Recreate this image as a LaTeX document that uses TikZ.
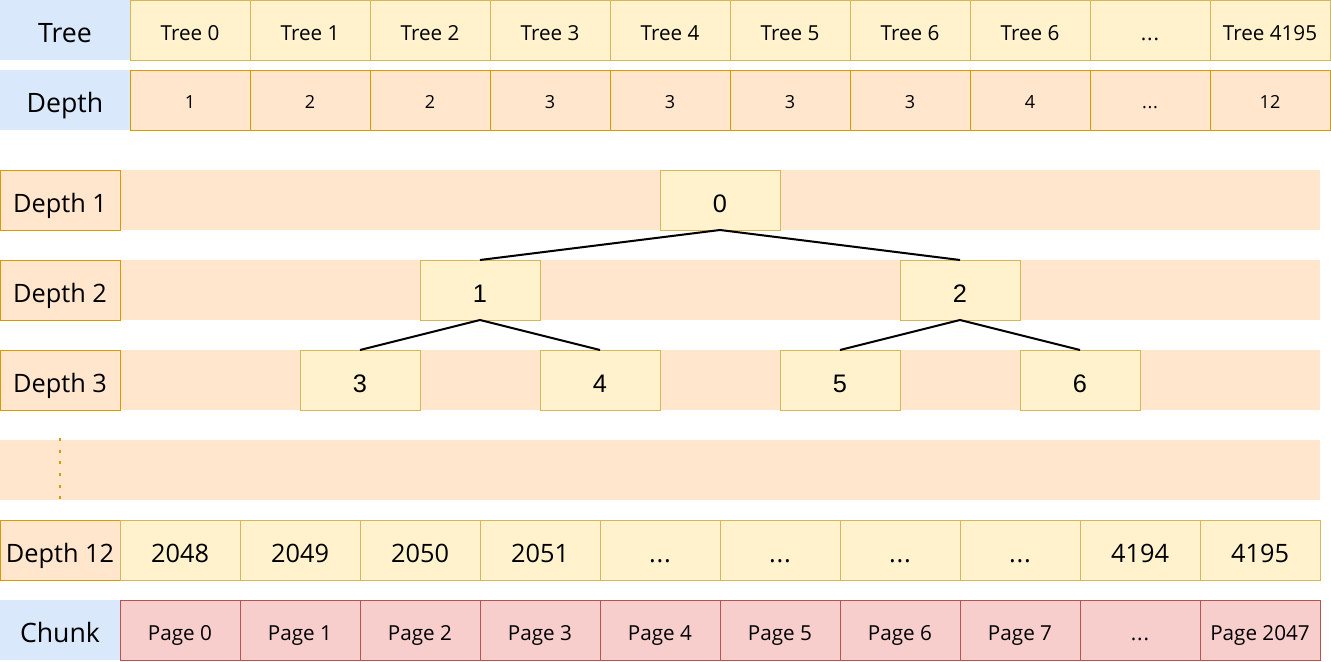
\documentclass[tikz,border=0pt]{standalone}
\usepackage{fontspec}
\setmainfont{Open Sans}
\newfontfamily\numfont{Liberation Sans}
\usepackage{xcolor}

\definecolor{headfill}{HTML}{DAE8FC}
\definecolor{yelfill}{HTML}{FFF2CC}
\definecolor{yelline}{HTML}{D6B656}
\definecolor{orgfill}{HTML}{FFE6CC}
\definecolor{orgline}{HTML}{D79B00}
\definecolor{redfill}{HTML}{F8CECC}
\definecolor{redline}{HTML}{B85450}

\newcommand{\dotsgap}{.\kern0.6pt.\kern0.6pt.}

\begin{document}
\begin{tikzpicture}[x=0.75pt,y=-0.75pt,
  cell/.style={anchor=north west,minimum width=90pt,minimum height=45pt,inner sep=0pt,outer sep=0pt,line width=0.75pt,text depth=0pt},
  head/.style={cell,fill=headfill,font=\fontsize{20}{24}\selectfont,text height=19.4pt},
  treecell/.style={cell,draw=yelline,fill=yelfill,font=\fontsize{15.5}{18}\selectfont,text height=15pt},
  depthcell/.style={cell,draw=orgline,fill=orgfill,font=\fontsize{13.5}{16}\selectfont,text height=13.1pt},
  levelbox/.style={cell,draw=orgline,fill=orgfill,font=\fontsize{19}{22}\selectfont,text height=18.4pt},
  band/.style={fill=orgfill},
  treenode/.style={cell,draw=yelline,fill=yelfill,font=\numfont\fontsize{19}{22}\selectfont,text height=18.4pt},
  leafcell/.style={cell,draw=yelline,fill=yelfill,font=\fontsize{19}{22}\selectfont,text height=18.4pt},
  pagecell/.style={cell,draw=redline,fill=redfill,font=\fontsize{15.5}{18}\selectfont,text height=15pt},
  edge/.style={line width=1.5pt,black}]
\useasboundingbox (0,0) rectangle (1331,661);

%tree row
\node[head,minimum width=97.5pt] (treehead) at (0,0) {Tree};
\node[treecell] (tree0) at (130,0) {Tree 0};
\node[treecell] (tree1) at (250,0) {Tree 1};
\node[treecell] (tree2) at (370,0) {Tree 2};
\node[treecell] (tree3) at (490,0) {Tree 3};
\node[treecell] (tree4) at (610,0) {Tree 4};
\node[treecell] (tree5) at (730,0) {Tree 5};
\node[treecell] (tree6) at (850,0) {Tree 6};
\node[treecell] (tree7) at (970,0) {Tree 6};
\node[treecell] (tree8) at (1090,0) {\dotsgap};
\node[treecell] (tree9) at (1210,0) {Tree 4195};

%depth row
\node[head,minimum width=97.5pt] (depthhead) at (0,70) {Depth};
\node[depthcell] (dep0) at (130,70) {1};
\node[depthcell] (dep1) at (250,70) {2};
\node[depthcell] (dep2) at (370,70) {2};
\node[depthcell] (dep3) at (490,70) {3};
\node[depthcell] (dep4) at (610,70) {3};
\node[depthcell] (dep5) at (730,70) {3};
\node[depthcell] (dep6) at (850,70) {3};
\node[depthcell] (dep7) at (970,70) {4};
\node[depthcell] (dep8) at (1090,70) {\dotsgap};
\node[depthcell] (dep9) at (1210,70) {12};

%bands
\fill[band] (120,170) rectangle (1320,230);
\fill[band] (120,260) rectangle (1320,320);
\fill[band] (120,350) rectangle (1320,410);
\fill[band] (0,440) rectangle (1320,500);
\draw[orgline,line width=1.5pt,dash pattern=on 2.25pt off 6.5pt] (60,438) -- (60,500);

%levels
\node[levelbox] (lev1) at (0,170) {Depth 1};
\node[levelbox] (lev2) at (0,260) {Depth 2};
\node[levelbox] (lev3) at (0,350) {Depth 3};
\node[levelbox] (lev12) at (0,520) {Depth 12};

%tree
\node[treenode] (n0) at (660,170) {0};
\node[treenode] (n1) at (420,260) {1};
\node[treenode] (n2) at (900,260) {2};
\node[treenode] (n3) at (300,350) {3};
\node[treenode] (n4) at (540,350) {4};
\node[treenode] (n5) at (780,350) {5};
\node[treenode] (n6) at (1020,350) {6};
\draw[edge] (n0.south) -- (n1.north);
\draw[edge] (n0.south) -- (n2.north);
\draw[edge] (n1.south) -- (n3.north);
\draw[edge] (n1.south) -- (n4.north);
\draw[edge] (n2.south) -- (n5.north);
\draw[edge] (n2.south) -- (n6.north);

%depth 12 leaves
\node[leafcell] (leaf0) at (120,520) {2048};
\node[leafcell] (leaf1) at (240,520) {2049};
\node[leafcell] (leaf2) at (360,520) {2050};
\node[leafcell] (leaf3) at (480,520) {2051};
\node[leafcell] (leaf4) at (600,520) {\dotsgap};
\node[leafcell] (leaf5) at (720,520) {\dotsgap};
\node[leafcell] (leaf6) at (840,520) {\dotsgap};
\node[leafcell] (leaf7) at (960,520) {\dotsgap};
\node[leafcell] (leaf8) at (1080,520) {4194};
\node[leafcell] (leaf9) at (1200,520) {4195};

%chunk row
\node[head] (chunkhead) at (0,600) {Chunk};
\node[pagecell] (page0) at (120,600) {Page 0};
\node[pagecell] (page1) at (240,600) {Page 1};
\node[pagecell] (page2) at (360,600) {Page 2};
\node[pagecell] (page3) at (480,600) {Page 3};
\node[pagecell] (page4) at (600,600) {Page 4};
\node[pagecell] (page5) at (720,600) {Page 5};
\node[pagecell] (page6) at (840,600) {Page 6};
\node[pagecell] (page7) at (960,600) {Page 7};
\node[pagecell] (page8) at (1080,600) {\dotsgap};
\node[pagecell] (page9) at (1200,600) {Page 2047};
\end{tikzpicture}
\end{document}
